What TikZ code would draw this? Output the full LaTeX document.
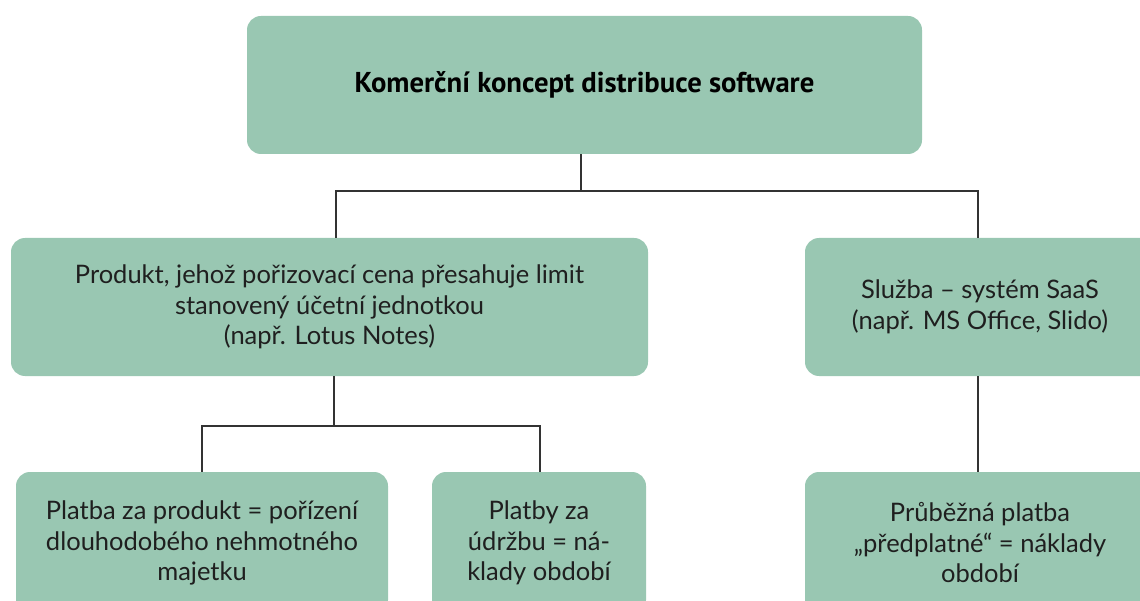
\documentclass[tikz,border=0pt]{standalone}
\usepackage{fontspec}
\setmainfont{Lato}
\newfontfamily\titlefont{PT Sans}
\begin{document}
\begin{tikzpicture}[x=1pt,y=-1pt,
  box/.style={fill=boxgreen, rounded corners=14pt, inner sep=0pt, align=center,
    font=\fontsize{25.5}{30.5}\selectfont, text=black!88},
  conn/.style={draw=black!80, line width=1.3pt}]
\definecolor{boxgreen}{HTML}{99C7B2}
\useasboundingbox (0,0) rectangle (1140,601);
\node[box, minimum width=675pt, minimum height=138pt, font=\titlefont\bfseries\fontsize{28.7}{32}\selectfont, text=black] (top) at (584.5,85) {Komerční koncept distribuce software};
\node[box, minimum width=637pt, minimum height=138pt] (prod) at (329.5,307) {Produkt, jehož pořizovací cena přesahuje limit\\stanovený účetní jednotkou\\(např. Lotus Notes)};
\node[box, minimum width=350pt, minimum height=138pt] (saas) at (980,307) {Služba – systém SaaS\\(např. MS Office, Slido)};
\node[box, minimum width=372pt, minimum height=142pt] (pay) at (202,543) {Platba za produkt = pořízení\\dlouhodobého nehmotného\\majetku};
\node[box, minimum width=214pt, minimum height=142pt] (maint) at (539,543) {Platby za\\údržbu = ná-\\klady období};
\node[box, minimum width=350pt, minimum height=142pt] (sub) at (980,543) {Průběžná platba\\„předplatné“ = náklady\\období};
\coordinate (j1) at (581,191);
\coordinate (j2) at (334,426);
\draw[conn] (top.south -| j1) -- (j1);
\draw[conn] (prod.north -| 336,0) |- (j1) -| (saas.north -| 978,0);
\draw[conn] (prod.south -| j2) -- (j2);
\draw[conn] (pay.north) |- (j2) -| (maint.north -| 540,0);
\draw[conn] (saas.south -| 978,0) -- (sub.north -| 978,0);
\end{tikzpicture}
\end{document}
